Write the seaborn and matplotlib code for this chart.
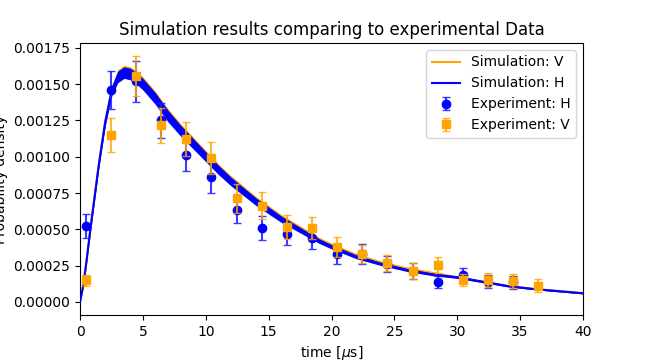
import matplotlib
matplotlib.use("Agg")
import matplotlib.pyplot as plt
import seaborn as sns
import numpy as np
import pandas as pd

# Simulation curves
sim_t = [0, 0.25, 0.5, 0.75, 1, 1.5, 2, 2.5, 3, 3.5, 4, 4.5, 5, 6, 7, 8, 9, 10,
         11, 12, 13, 14, 15, 16, 17, 18, 19, 20, 22, 24, 26, 28, 30, 32, 34, 36, 38, 40]
sim_h = [0, 0.00011, 0.00027, 0.00045, 0.00062, 0.00095, 0.00124, 0.00145, 0.00155,
         0.00158, 0.00157, 0.00154, 0.00150, 0.00140, 0.00128, 0.00118, 0.00109, 0.00100,
         0.00091, 0.00083, 0.00076, 0.00069, 0.00063, 0.00057, 0.00052, 0.00047, 0.00042,
         0.00038, 0.00031, 0.00026, 0.00022, 0.00019, 0.00017, 0.00014, 0.00011, 0.00009,
         0.000075, 0.00006]
sim_v = [0, 0.00011, 0.00027, 0.00045, 0.00062, 0.00095, 0.00124, 0.00145, 0.00156,
         0.00159, 0.00158, 0.00155, 0.00151, 0.00141, 0.00129, 0.00119, 0.00110, 0.00101,
         0.00092, 0.00084, 0.00077, 0.00070, 0.00064, 0.00058, 0.00053, 0.00048, 0.00043,
         0.00039, 0.00032, 0.00027, 0.00023, 0.00020, 0.00017, 0.00014, 0.00011, 0.00009,
         0.000075, 0.00006]
sim_band = [0, 0.000005, 0.00001, 0.000015, 0.00002, 0.000025, 0.00003, 0.000035, 0.00004,
            0.00004, 0.00004, 0.00004, 0.00004, 0.00004, 0.00004, 0.000038, 0.000036, 0.000034,
            0.000032, 0.00003, 0.000028, 0.000026, 0.000024, 0.000022, 0.00002, 0.000018,
            0.000016, 0.000015, 0.000013, 0.000011, 0.00001, 0.000009, 0.000008, 0.000007,
            0.000006, 0.000005, 0.000005, 0.000005]

# Experimental data
exp_h_t = [0.45, 2.45, 4.45, 6.45, 8.45, 10.45, 12.45, 14.45, 16.45, 18.45, 20.45,
           22.45, 24.45, 26.45, 28.45, 30.45, 32.45, 34.45]
exp_h = [0.000521, 0.00146, 0.00152, 0.00125, 0.00101, 0.00086, 0.00063, 0.00051,
         0.00047, 0.00044, 0.00033, 0.00033, 0.00026, 0.00021, 0.000136, 0.000186,
         0.00014, 0.000135]
exp_h_err = [0.000083, 0.00013, 0.00014, 0.00012, 0.00011, 0.00011, 0.000087, 0.000083,
             0.000078, 0.000078, 0.000069, 0.000069, 0.000055, 0.000055, 0.000041,
             0.000046, 0.000045, 0.000045]
exp_v_t = [0.45, 2.45, 4.45, 6.45, 8.45, 10.45, 12.45, 14.45, 16.45, 18.45, 20.45,
           22.45, 24.45, 26.45, 28.45, 30.45, 32.45, 34.45, 36.45]
exp_v = [0.000149, 0.00115, 0.001557, 0.001217, 0.001123, 0.00099, 0.000714, 0.000664,
         0.000514, 0.000508, 0.000377, 0.000331, 0.000267, 0.000211, 0.000253, 0.000149,
         0.00015, 0.000143, 0.000113]
exp_v_err = [0.00004, 0.00012, 0.00014, 0.00012, 0.00012, 0.00011, 0.0001, 0.00009,
             0.000083, 0.000076, 0.000069, 0.000064, 0.000055, 0.000055, 0.000055,
             0.000041, 0.000048, 0.000048, 0.000044]

x_ticks = [0, 5, 10, 15, 20, 25, 30, 35, 40]
y_ticks = [0, 0.00025, 0.0005, 0.00075, 0.001, 0.00125, 0.0015, 0.00175]

fig, ax = plt.subplots(figsize=(6.48, 3.6), dpi=100)
fig.subplots_adjust(left=0.1235, right=0.8997, top=0.8806, bottom=0.125)

df = pd.DataFrame({"t": sim_t, "V": sim_v, "H": sim_h, "band": sim_band})

ax.fill_between(df["t"], df["V"] - df["band"], df["V"] + df["band"],
                color="orange", lw=0, zorder=1)
sns.lineplot(data=df, x="t", y="V", ax=ax, color="orange", lw=1.5,
             label="Simulation: V", zorder=2)
ax.fill_between(df["t"], df["H"] - df["band"], df["H"] + df["band"],
                color="blue", lw=0, zorder=3)
sns.lineplot(data=df, x="t", y="H", ax=ax, color="blue", lw=1.5,
             label="Simulation: H", zorder=4)

ax.errorbar(exp_h_t, exp_h, yerr=exp_h_err, fmt="o", color="blue",
            ecolor=(0.1, 0.1, 1.0, 0.85),
            markersize=6, capsize=3, label="Experiment: H", zorder=5)
ax.errorbar(exp_v_t, exp_v, yerr=exp_v_err, fmt="s", color="orange",
            ecolor=(1.0, 0.647, 0.0, 0.8),
            markersize=6, capsize=3, label="Experiment: V", zorder=6)

ax.set_xlim(0, 40)
ax.set_ylim(-0.00009, 0.001784)
ax.set_xticks(x_ticks)
ax.set_yticks(y_ticks)
ax.set_xlabel(r"time [$\mu$s]")
ax.set_ylabel("Probability density")
ax.set_title("Simulation results comparing to experimental Data")
ax.legend(loc="upper right")

fig.savefig("out.png", dpi=100)
